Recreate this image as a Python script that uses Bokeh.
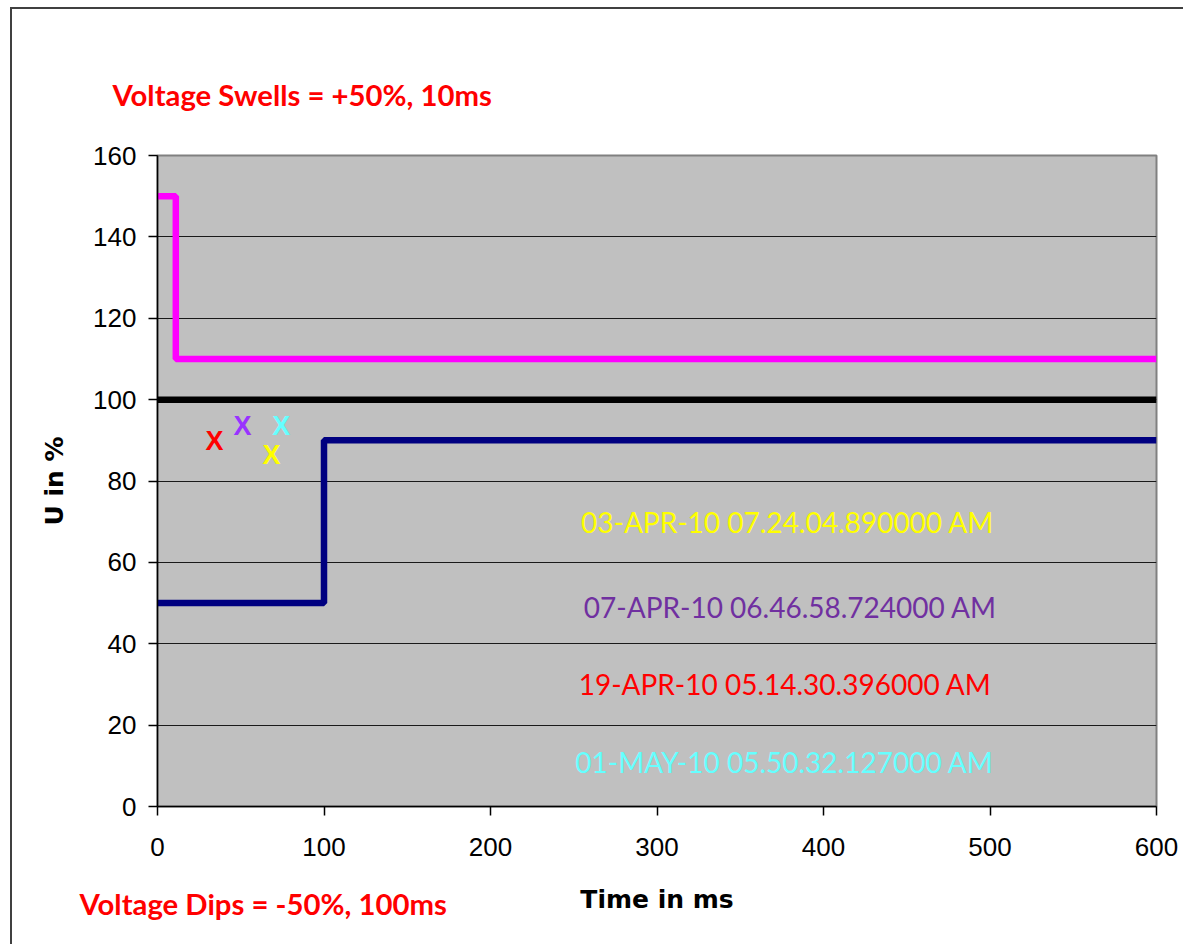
from bokeh.plotting import figure
from bokeh.models import Range1d, FixedTicker, Label, Title, ColumnDataSource
from bokeh.core.properties import value
from bokeh.embed import file_html
from bokeh.resources import INLINE

# ---- data ----
swell_t = [0, 0, 11, 11, 600]
swell_u = [150, 150, 150, 110, 110]
nominal_t = [0, 600]
nominal_u = [100, 100]
dip_t = [0, 100, 100, 600]
dip_u = [50, 50, 90, 90]

event_t = [34.2, 51.1, 74.3, 68.5]
event_u = [89.8, 93.6, 93.6, 86.3]
event_colors = ["#FF0000", "#9933FF", "#66FFFF", "#FFFF00"]
event_marks = ["X", "X", "X", "X"]

event_labels = ["03-APR-10 07.24.04.890000 AM", "07-APR-10 06.46.58.724000 AM",
                "19-APR-10 05.14.30.396000 AM", "01-MAY-10 05.50.32.127000 AM"]
event_label_colors = ["#FFFF00", "#7030A0", "#FF0000", "#66FFFF"]

x_ticks = [0, 100, 200, 300, 400, 500, 600]
y_ticks = [0, 20, 40, 60, 80, 100, 120, 140, 160]

swell_note = "Voltage Swells = +50%, 10ms"
dip_note = "Voltage Dips = -50%, 100ms"

# ---- figure ----
p = figure(width=1173, height=937, output_backend="svg", toolbar_location=None,
           x_range=Range1d(0, 600), y_range=Range1d(0, 160),
           title=swell_note,
           min_border_left=145, min_border_right=29, min_border_top=146,
           min_border_bottom=140)
p.styles = {"border-left": "2px solid #404040", "border-top": "2px solid #404040",
            "margin-left": "10px", "margin-top": "7px"}
p.background_fill_color = "#C0C0C0"
p.border_fill_color = "white"
p.outline_line_color = "#808080"
p.outline_line_width = 2

p.title.align = "left"
p.title.offset = -45
p.title.standoff = 87
p.title.text_color = "#FF0000"
p.title.text_font = "Lato"
p.title.text_font_style = "bold"
p.title.text_font_size = "29.3px"

p.xgrid.grid_line_color = None
p.ygrid.grid_line_color = "#1a1a1a"
p.ygrid.grid_line_width = 1.2
p.ygrid.ticker = FixedTicker(ticks=y_ticks)

p.xaxis.ticker = FixedTicker(ticks=x_ticks)
p.yaxis.ticker = FixedTicker(ticks=y_ticks)
for ax in (p.xaxis, p.yaxis):
    ax.axis_line_color = "black"
    ax.axis_line_width = 1.5
    ax.major_tick_line_color = "black"
    ax.major_tick_line_width = 1.5
    ax.major_tick_in = 0
    ax.major_tick_out = 9
    ax.minor_tick_line_color = None
    ax.major_label_text_font = "Liberation Sans"
    ax.major_label_text_font_size = "26px"
    ax.major_label_text_color = "black"
    ax.axis_label_text_font = "DejaVu Sans"
    ax.axis_label_text_font_style = "bold"
    ax.axis_label_text_font_size = "25px"
    ax.axis_label_text_color = "black"

p.xaxis.axis_label = "Time in ms"
p.yaxis.axis_label = "U in %"
p.xaxis.major_label_standoff = 22
p.yaxis.major_label_standoff = 12
p.xaxis.axis_label_standoff = 26
p.yaxis.axis_label_standoff = 21

# ---- series ----
p.line(swell_t, swell_u, line_color="#FF00FF", line_width=6.5)
p.line(nominal_t, nominal_u, line_color="black", line_width=6.5)
p.line(dip_t, dip_u, line_color="#000080", line_width=6.5)

src = ColumnDataSource(dict(x=event_t, y=event_u, t=event_marks, c=event_colors))
p.text(x="x", y="y", text="t", text_color="c", source=src,
       text_font=value("Liberation Sans"), text_font_style="bold",
       text_font_size="27px", text_align="center", text_baseline="middle")

# ---- annotations ----
label_x = [378.4, 380.1, 377.0, 376.6]
label_y = [70.0, 49.1, 30.1, 11.0]
for txt, col, lx, ly in zip(event_labels, event_label_colors, label_x, label_y):
    p.add_layout(Label(x=lx, y=ly, text=txt, text_color=col, text_font="Lato",
                       text_font_size="28px", text_align="center",
                       text_baseline="alphabetic"))

p.add_layout(Title(text=dip_note, align="left", offset=-78, standoff=-62,
                   vertical_align="top",
                   text_color="#FF0000", text_font="Lato", text_font_style="bold",
                   text_font_size="29.3px"), "below")

open("out.html", "w").write(file_html(p, INLINE))
